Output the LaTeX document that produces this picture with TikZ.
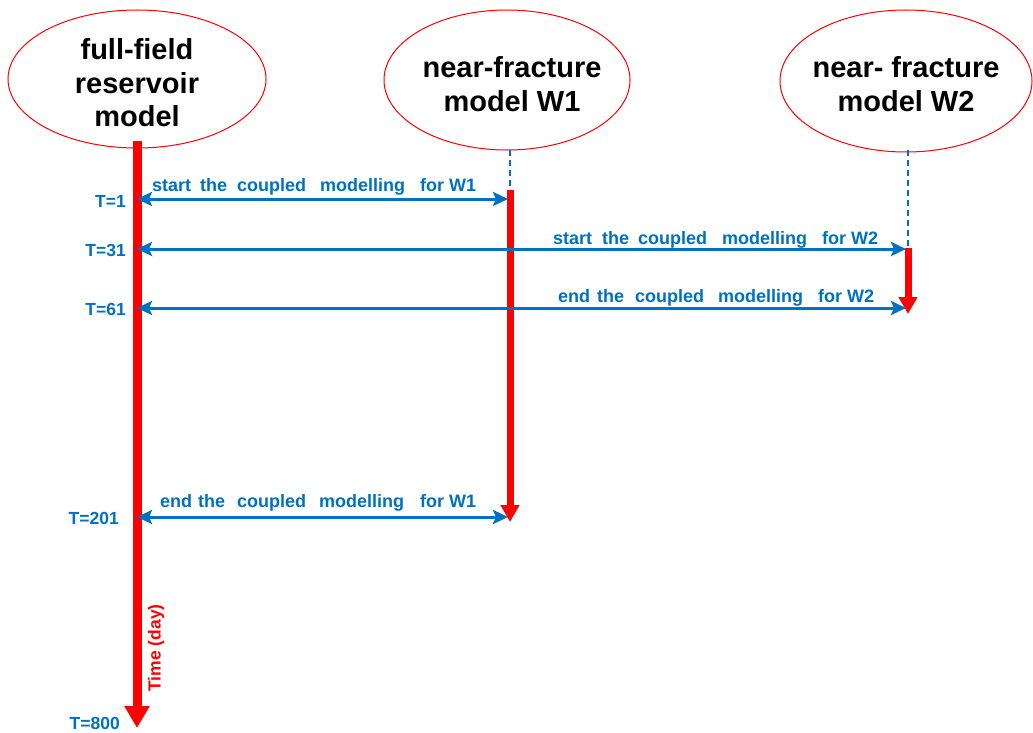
\documentclass[tikz,border=0pt]{standalone}
\usepackage{fontspec}
\setmainfont{Liberation Sans}
\usetikzlibrary{arrows.meta,shapes.geometric}
\definecolor{myblue}{RGB}{0,112,192}
\definecolor{myred}{RGB}{255,0,0}
\newcommand{\wg}[1]{\hspace{#1pt}}
\begin{document}
\begin{tikzpicture}[x=1pt,y=-1pt,
  model/.style={ellipse,draw=myred,line width=1pt,inner sep=0pt},
  modeltext/.style={align=center,inner sep=0pt,
    font=\fontsize{29}{33.5}\selectfont\bfseries},
  lifeline/.style={draw=myred,line width=9pt,-{Triangle[length=22pt,width=24pt]}},
  bar/.style={draw=myred,line width=7pt,-{Triangle[length=17pt,width=18pt]}},
  dash line/.style={draw=myblue,line width=2.2pt,dash pattern=on 6pt off 4pt},
  msg/.style={draw=myblue,line width=3pt,
    {Stealth[length=15pt,width=14pt,inset=3pt]}-{Stealth[length=15pt,width=14pt,inset=3pt]}},
  msglabel/.style={text=myblue,anchor=base west,inner sep=0pt,
    font=\fontsize{18}{20}\selectfont\bfseries},
  tlabel/.style={text=myblue,anchor=east,inner sep=0pt,
    font=\fontsize{17.5}{20}\selectfont\bfseries}
]
\useasboundingbox (0,0) rectangle (1033,733);

% model ellipses
\node[model,minimum width=258pt,minimum height=138pt] (M0) at (137,79) {};
\node[modeltext] (M0t) at (137,83) {full-field\\reservoir\\model};
\node[model,minimum width=246pt,minimum height=140pt] (M1) at (507,80) {};
\node[modeltext] (M1t) at (512,84) {near-fracture\\model W1};
\node[model,minimum width=252pt,minimum height=142pt] (M2) at (906,81) {};
\node[modeltext] (M2t) at (906,84) {near- fracture\\model W2};

% lifeline coordinates
\coordinate (L0top) at (137,141);
\coordinate (L0end) at (137,728);
\coordinate (L1top) at (510,150);
\coordinate (L1start) at (510,190);
\coordinate (L1end) at (510,522);
\coordinate (L2top) at (908,150);
\coordinate (L2start) at (908,248);
\coordinate (L2end) at (908,314);

\coordinate (A1l) at (137,199);
\coordinate (A1r) at (508,199);
\coordinate (A2l) at (137,249);
\coordinate (A2r) at (906,249);
\coordinate (A3l) at (137,308);
\coordinate (A3r) at (906,308);
\coordinate (A4l) at (137,517);
\coordinate (A4r) at (508,517);

% lifelines
\draw[dash line] (L1top) -- (L1start);
\draw[dash line] (L2top) -- (L2start);
\draw[lifeline] (L0top) -- (L0end);
\draw[bar] (L1start) -- (L1end);
\draw[bar] (L2start) -- (L2end);

% messages
\draw[msg] (A1l) -- (A1r);
\draw[msg] (A2l) -- (A2r);
\draw[msg] (A3l) -- (A3r);
\draw[msg] (A4l) -- (A4r);

\node[msglabel] (m1) at (152,191) {start\wg{9}the\wg{10}coupled\wg{14}modelling\wg{15}for W1};
\node[msglabel] (m2) at (553,244) {start\wg{10}the\wg{9}coupled\wg{15}modelling\wg{15}for W2};
\node[msglabel] (m3) at (558,302) {end\wg{7}the\wg{11}coupled\wg{14}modelling\wg{15}for W2};
\node[msglabel] (m4) at (160,507) {end\wg{6}the\wg{12}coupled\wg{13}modelling\wg{16}for W1};

% time labels
\node[tlabel] (t1) at (126,201) {T=1};
\node[tlabel] (t31) at (126,250) {T=31};
\node[tlabel] (t61) at (126,309) {T=61};
\node[tlabel] (t201) at (119,518) {T=201};
\node[tlabel] (t800) at (120,723) {T=800};

\node[text=myred,rotate=90,inner sep=0pt,font=\fontsize{17.5}{20}\selectfont\bfseries]
  (time) at (156,648) {Time (day)};
\end{tikzpicture}
\end{document}
